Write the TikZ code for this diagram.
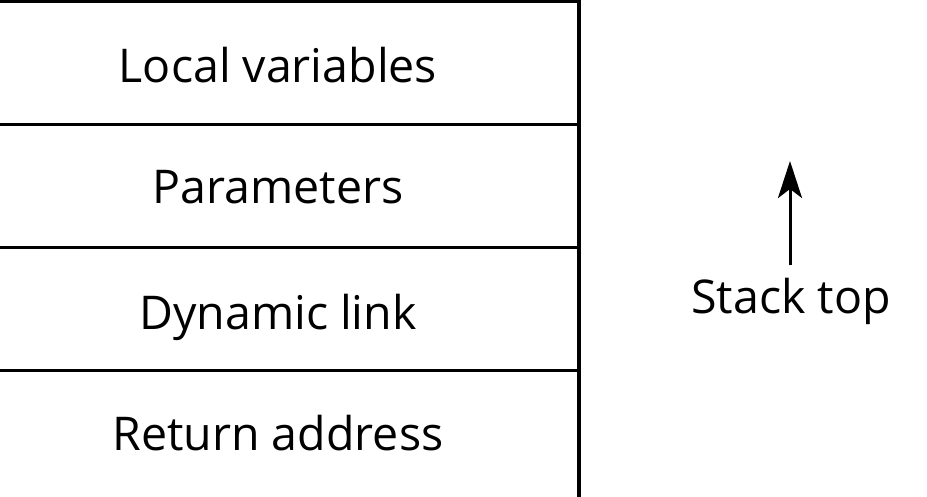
\documentclass[tikz,border=0pt]{standalone}
\usepackage{fontspec}
\setmainfont{Open Sans}
\usetikzlibrary{arrows.meta}
\begin{document}
\begin{tikzpicture}[x=1pt,y=-1pt,
  frame/.style={line width=3.2pt,line cap=rect},
  divider/.style={line width=3pt},
  label/.style={anchor=base,inner sep=0pt,font=\fontsize{46.5}{50}\selectfont},
  pointer/.style={line width=3pt,-{Stealth[length=37pt,width=24pt,inset=9pt]}}]
  \useasboundingbox (0,0) rectangle (927,496);
  % frame: top edge and right edge
  \coordinate (tl) at (0,1.5);
  \coordinate (tr) at (579,1.5);
  \coordinate (br) at (579,496);
  \draw[frame] (tl) -- (tr) -- (br);
  % row dividers
  \foreach \yy/\nm in {124/a,247/b,370/c}{
    \coordinate (l\nm) at (0,\yy);
    \coordinate (r\nm) at (579,\yy);
    \draw[divider] (l\nm) -- (r\nm);
  }
  % row labels
  \node[label] (locals) at (278,82) {Local variables};
  \node[label] (params) at (278,203) {Parameters};
  \node[label] (dynlink) at (278,329) {Dynamic link};
  \node[label] (retaddr) at (278,450) {Return address};
  % stack top marker
  \node[label] (stacktop) at (791,313) {Stack top};
  \coordinate (tail) at (790,265);
  \coordinate (head) at (790,161);
  \draw[pointer] (tail) -- (head);
\end{tikzpicture}
\end{document}
